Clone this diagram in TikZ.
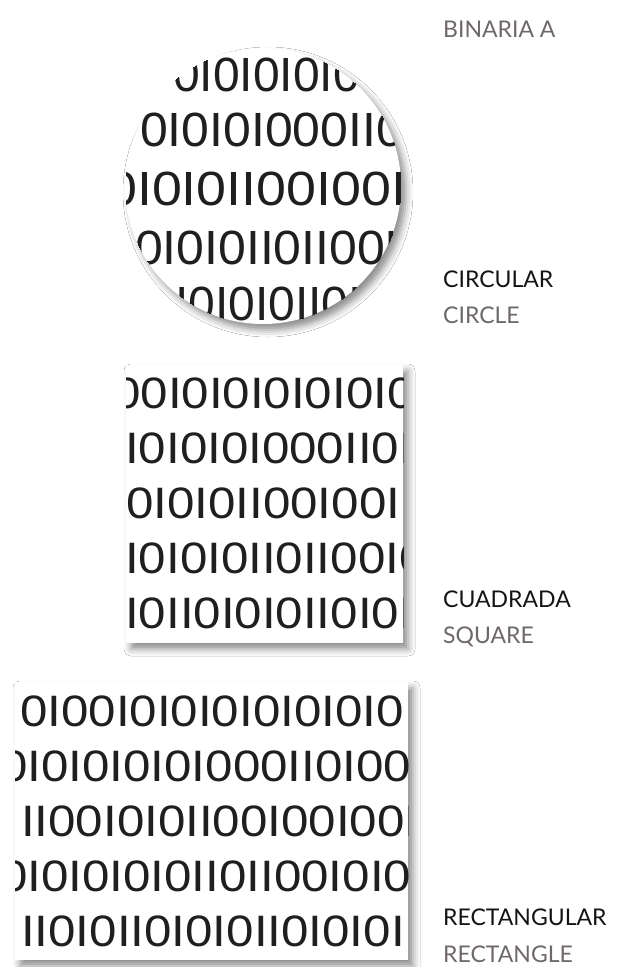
\documentclass[tikz,border=0pt]{standalone}
\usepackage{fontspec}
\setmainfont{Lato}
\newfontfamily\bitfont{Liberation Sans}
\newfontfamily\bitfontM[FakeStretch=1.04]{Liberation Sans}
\newfontfamily\bitfontL[FakeStretch=1.12]{Liberation Sans}
\newfontfamily\bitfontW[FakeStretch=1.12]{Liberation Sans}
\usetikzlibrary{shadows.blur}
\definecolor{labelgray}{RGB}{110,104,104}
\definecolor{labelblack}{RGB}{20,20,20}
\tikzset{
  bitsC/.style={inner sep=0pt, anchor=base west, font=\bitfont\fontsize{48}{48}\selectfont, text=black!88},
  bitsCm/.style={bitsC, font=\bitfontM\fontsize{48}{48}\selectfont},
  bitsCl/.style={bitsC, font=\bitfontL\fontsize{48}{48}\selectfont},
  bitsR/.style={inner sep=0pt, anchor=base west, font=\bitfontW\fontsize{44}{44}\selectfont, text=black!88},
  lab/.style={inner sep=0pt, anchor=base west, font=\fontsize{23}{23}\selectfont, text=labelblack},
  labsub/.style={lab, text=labelgray},
  card/.style={fill=white, blur shadow={shadow xshift=5pt, shadow yshift=-6pt, shadow blur radius=7pt, shadow opacity=45}}
}
\begin{document}
\begin{tikzpicture}[x=1pt,y=-1pt]
\useasboundingbox (0,0) rectangle (620,967);
\fill[white] (0,0) rectangle (620,967);
% circle
\path[card] (263,186) circle[radius=138pt];
\begin{scope}
\clip (263,186) circle[radius=138pt];
\node[bitsC] (c1) at (173,91) {0I0I0I0I0I};
\node[bitsCm] (c2) at (140,146) {0I0I0I000II0I000};
\node[bitsCl] (c3) at (107,205) {0I0I0II00I00I00};
\node[bitsCm] (c4) at (135,264) {0I0I0II0II00I0I0};
\node[bitsC] (c5) at (175,320) {I0I0I0II0I0I};
\end{scope}
% square
\path[card] (126,365) rectangle (403,643);
\begin{scope}
\clip (126,365) rectangle (403,643);
\node[bitsR] (s1) at (113,408) {00I0I0I0I0I0I0I0};
\node[bitsR] (s2) at (125,463) {I0I0I0I000II0I};
\node[bitsR] (s3) at (126,518) {0I0I0II00I00I};
\node[bitsR] (s4) at (125,573) {I0I0I0II0II00I0};
\node[bitsR] (s5) at (125,628) {I0II0I0I0II0I0I};
\end{scope}
% rectangle
\path[card] (15,682) rectangle (408,960);
\begin{scope}
\clip (15,682) rectangle (408,960);
\node[bitsR] (r1) at (20,726) {0I00I0I0I0I0I0I0I0};
\node[bitsR] (r2) at (0,781) {0I0I0I0I0I000II0I000};
\node[bitsR] (r3) at (21,836) {II00I0I0II00I00I00I};
\node[bitsR] (r4) at (0,891) {0I0I0I0I0II0II00I0I0};
\node[bitsR] (r5) at (21,946) {II0I0II0I0I0II0I0I0I};
\end{scope}
% labels
\node[labsub] (title) at (443,37) {BINARIA A};
\node[lab] (circES) at (443,287) {CIRCULAR};
\node[labsub] (circEN) at (443,323) {CIRCLE};
\node[lab] (sqES) at (443,607) {CUADRADA};
\node[labsub] (sqEN) at (443,643) {SQUARE};
\node[lab] (reES) at (443,925) {RECTANGULAR};
\node[labsub] (reEN) at (443,962) {RECTANGLE};
\end{tikzpicture}
\end{document}
